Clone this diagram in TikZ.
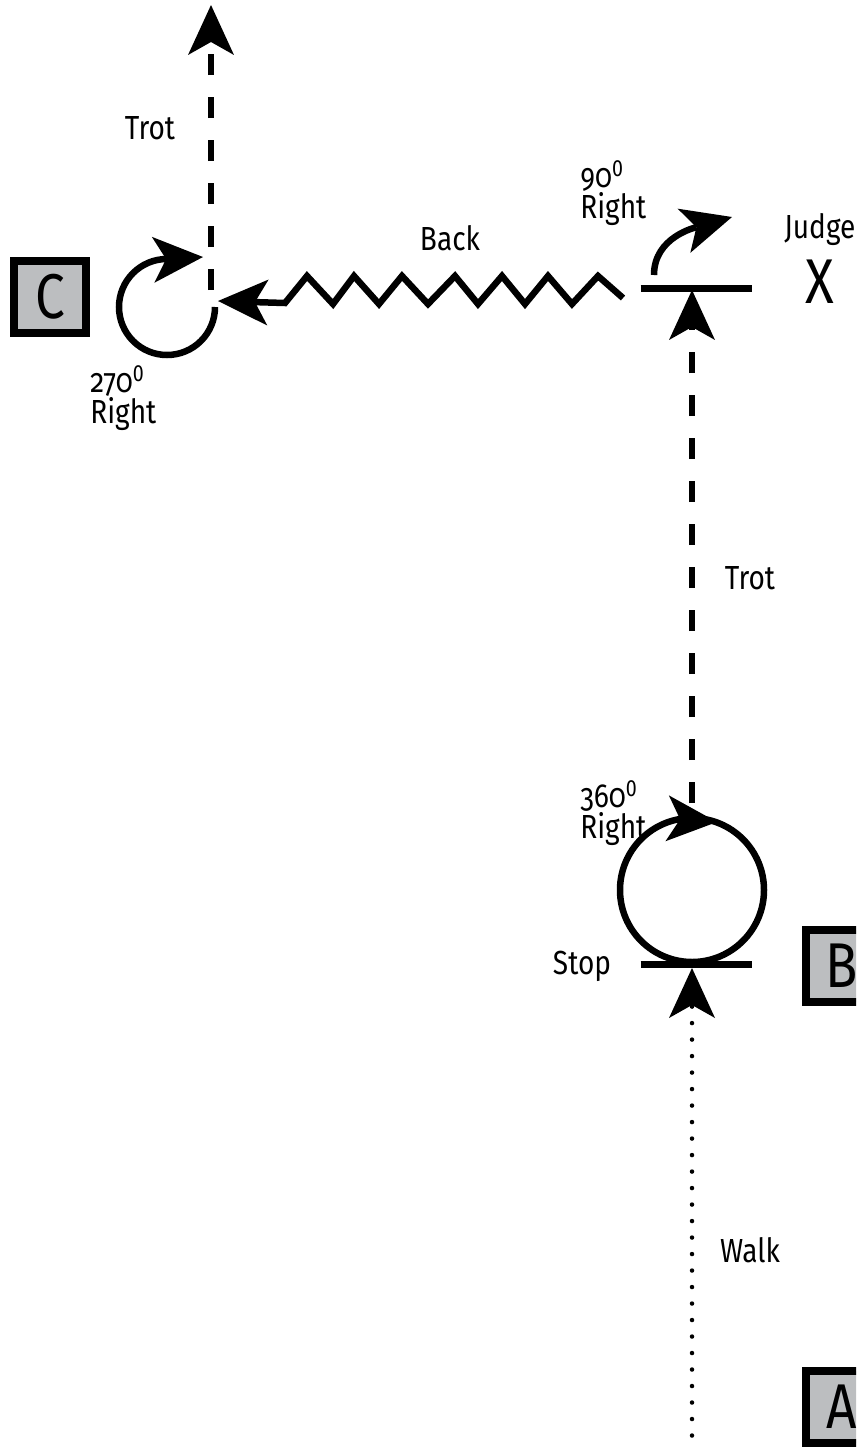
\documentclass[tikz,border=0pt]{standalone}
\usepackage{fontspec}
\setmainfont[Numbers=OldStyle,FakeStretch=0.84]{Fira Sans}
\usetikzlibrary{arrows.meta, calc}
\definecolor{boxgray}{HTML}{BCBEC0}
\newcommand\degs{\textsuperscript{\addfontfeature{Numbers=Lining}0}}

\begin{document}
\begin{tikzpicture}[line cap=butt,line join=miter,x=0.02cm,y=0.02cm,
    >={Stealth[length=1.0cm,width=0.92cm,inset=0.26cm,line width=0pt]},
    letterbox/.style={draw=black,fill=boxgray,line width=0.16cm,minimum size=1.44cm,inner sep=0pt,font=\fontsize{36}{36}\selectfont},
    lbl/.style={font=\fontsize{19}{18}\selectfont,inner sep=0pt},
    trot/.style={line width=0.12cm,dash pattern=on 0.42cm off 0.44cm},
    walk/.style={line width=0.09cm,line cap=round,dash pattern=on 0pt off 0.33cm},
    turn/.style={line width=0.13cm},
    halt/.style={line width=0.14cm}]
    \useasboundingbox (0,0) rectangle (856,-1447);
    \clip (0,0) rectangle (856,-1447);

    % points of the route
    \coordinate (trotTop) at (211,-5);
    \coordinate (turnC) at (211,-290);
    \coordinate (spinC) at (167,-307);
    \coordinate (backTip) at (218,-301);
    \coordinate (backBend) at (285,-303);
    \coordinate (backStart) at (623,-298);
    \coordinate (haltX) at (695.5,-288);
    \coordinate (turnX) at (654,-275);
    \coordinate (turnXtip) at (732,-217);
    \coordinate (trotTip) at (692,-290);
    \coordinate (trotBase) at (692,-803);
    \coordinate (spinB) at (692,-890);
    \coordinate (haltB) at (695.5,-964);
    \coordinate (walkTip) at (692,-968);
    \coordinate (walkBase) at (692,-1452);

    % markers
    \node[letterbox] (boxC) at (50,-297) {C};
    \node[letterbox] (boxB) at (842,-966) {B};
    \node[letterbox] (boxA) at (842,-1407) {A};
    \node[font=\fontsize{36}{36}\selectfont,inner sep=0pt] (judgeX) at (820,-282) {X};
    \node[lbl,anchor=west] (judge) at (784,-230) {Judge};

    % walk to B, stop, spin, trot to X
    \draw[walk,->] (walkBase) -- (walkTip);
    \draw[halt] ($(haltB)+(-55,0)$) -- ($(haltB)+(56,0)$);
    \draw[turn] (spinB) circle[radius=72];
    \draw[turn,->] ($(spinB)+(-2,70)$) -- ($(spinB)+(25,68)$);
    \draw[trot,->] (trotBase) -- (trotTip);

    % stop at X, quarter turn
    \draw[halt] ($(haltX)+(-55,0)$) -- ($(haltX)+(56,0)$);
    \draw[turn,->] (turnX) to[out=90,in=196] (turnXtip);

    % back up to C
    \draw[turn,->] (backStart)
        \foreach \x/\y in {598/-276, 572/-304, 548/-276, 525/-304, 502/-276, 478/-304,
                           455/-276, 428/-304, 402/-276, 379/-304, 354/-276, 333/-304, 307/-276}
        { -- (\x,\y) } -- (backBend) -- (backTip);

    % turn at C, trot off
    \draw[turn,->] ($(spinC)+(48,0)$) arc[start angle=0,end angle=-270,radius=48] -- ++(36,2);
    \draw[trot,->] (turnC) -- (trotTop);

    % labels
    \node[lbl] (trotC) at (150,-128) {Trot};
    \node[lbl] (back) at (450,-238) {Back};
    \node[lbl,align=left,anchor=west] (rightX) at (580,-193) {90\degs\\Right};
    \node[lbl,align=left,anchor=west] (rightC) at (90,-398) {270\degs\\Right};
    \node[lbl] (trotB) at (750,-578) {Trot};
    \node[lbl,align=left,anchor=west] (rightB) at (580,-813) {360\degs\\Right};
    \node[lbl] (stop) at (582,-966) {Stop};
    \node[lbl] (walkB) at (750,-1250) {Walk};
\end{tikzpicture}
\end{document}
